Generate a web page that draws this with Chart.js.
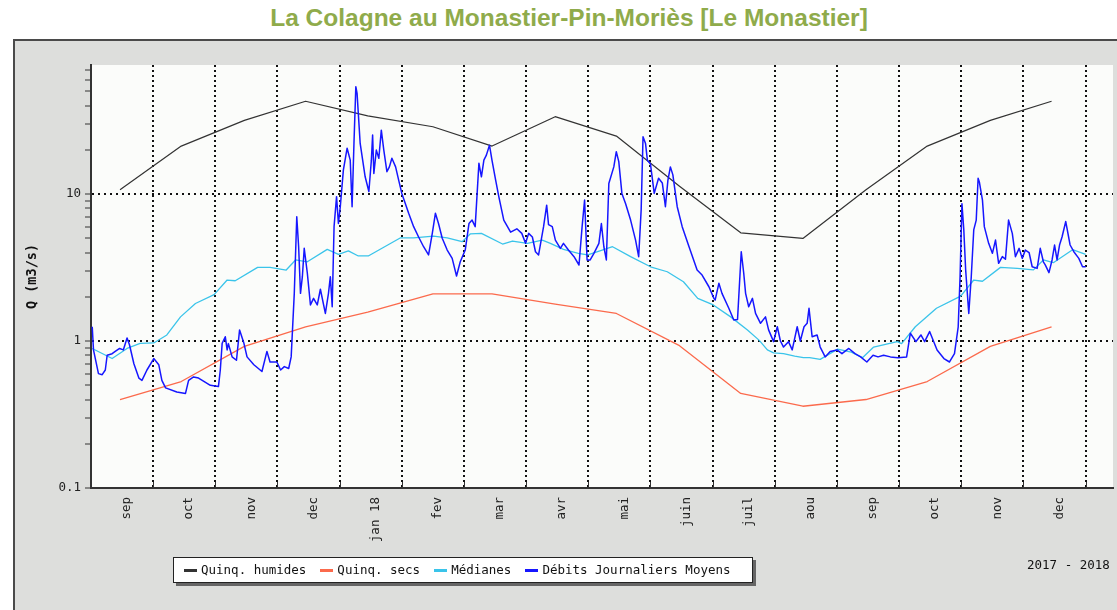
<!DOCTYPE html>
<html>
<head>
<meta charset="utf-8">
<script src="https://cdn.jsdelivr.net/npm/chart.js@4.4.1/dist/chart.umd.min.js"></script>
<style>
  body { margin: 0; width: 1117px; height: 610px; overflow: hidden; position: relative; background: #fff; }
  #titre { position: absolute; left: 0; top: 1px; width: 1138px; text-align: center;
           font: bold 24.5px 'Liberation Sans', Arial, sans-serif; line-height: 34px; color: #8fab4b; }
  #cadre { position: absolute; left: 13px; top: 39px; width: 1110px; height: 580px;
           background: #dddedc; border-left: 2px solid #4a4a4a; border-top: 2px solid #4a4a4a; }
  #graphe { position: absolute; left: 0; top: 0; }
  #legende { position: absolute; left: 173px; top: 557px; width: 568px; height: 24px; box-sizing: content-box;
             padding-left: 10px; background: #fff; border: 1px solid #222; box-shadow: 3px 3px 0 #666;
             font: 12.5px 'DejaVu Sans Mono', monospace; line-height: 24px; white-space: nowrap; color: #111; }
  #legende span { margin-right: 14px; }
  #legende i { display: inline-block; width: 13px; height: 3px; margin-right: 4px; vertical-align: middle; }
  #annees { position: absolute; left: 1027px; top: 556px; font: 12.5px 'DejaVu Sans Mono', monospace;
            line-height: 18px; color: #111; white-space: nowrap; }
</style>
</head>
<body>
<div id="titre">La Colagne au Monastier-Pin-Moriès [Le Monastier]</div>
<div id="cadre"></div>
<canvas id="graphe" width="1117" height="610"></canvas>
<div id="legende"></div>
<div id="annees">2017 - 2018</div>
<script>
// mois affichés (sep 2017 -> dec 2018)
const moisLabels = ['sep', 'oct', 'nov', 'dec', 'jan 18', 'fev', 'mar', 'avr', 'mai', 'juin',
                    'juil', 'aou', 'sep', 'oct', 'nov', 'dec'];

// valeurs mensuelles (au 15 de chaque mois)
const quinqHumides = [10.7, 21.2, 31.7, 42.8, 34, 28.7, 21.2, 33.6, 24.8, 11.3, 5.45, 4.99,
                      10.7, 21.2, 31.7, 42.8];
const quinqSecs = [0.40, 0.53, 0.92, 1.25, 1.57, 2.09, 2.09, 1.78, 1.54, 0.93, 0.44, 0.36,
                   0.40, 0.53, 0.92, 1.25];

// médianes journalières (temps en mois depuis le 1er sep 2017)
const medianesT = [0.02, 0.34, 0.58, 0.79, 1.01, 1.22, 1.44, 1.68, 1.98, 2.19, 2.32, 2.68, 2.88, 3.14,
  3.29, 3.48, 3.80, 3.98, 4.14, 4.30, 4.46, 4.98, 5.19, 5.51, 5.73, 5.97, 6.10, 6.28, 6.62, 6.78, 7.02,
  7.26, 7.39, 7.60, 7.84, 7.99, 8.15, 8.39, 8.68, 9.00, 9.27, 9.53, 9.76, 10.01, 10.29, 10.56, 10.75,
  10.88, 10.98, 11.14, 11.32, 11.46, 11.56, 11.73, 12.01, 12.23, 12.41, 12.59, 12.97, 13.04, 13.26,
  13.60, 13.99, 14.20, 14.34, 14.63, 14.90, 15.16, 15.32, 15.48, 15.79, 16.00];
const medianesQ = [0.89, 0.76, 0.89, 0.965, 0.97, 1.1, 1.46, 1.80, 2.07, 2.6, 2.57, 3.17, 3.17, 3.04,
  3.56, 3.46, 4.2, 3.89, 4.1, 3.79, 3.79, 5.04, 5.04, 5.18, 5.04, 4.74, 5.35, 5.4, 4.57, 4.79, 4.62,
  4.86, 4.62, 4.2, 3.95, 3.85, 4.05, 4.38, 3.75, 3.2, 2.96, 2.53, 1.95, 1.76, 1.46, 1.19, 1.01,
  0.87, 0.83, 0.82, 0.79, 0.77, 0.77, 0.75, 0.88, 0.84, 0.77, 0.91, 0.99, 0.96, 1.25,
  1.67, 2.02, 2.6, 2.55, 3.17, 3.12, 3.05, 3.56, 3.41, 4.18, 3.88];

// débits journaliers moyens
const debitsT = [0.02, 0.04, 0.12, 0.18, 0.23, 0.26, 0.34, 0.39, 0.46, 0.52, 0.58, 0.62, 0.69, 0.77,
  0.82, 0.90, 1.01, 1.09, 1.14, 1.20, 1.38, 1.52, 1.57, 1.65, 1.73, 1.92, 2.05, 2.08, 2.11, 2.16, 2.19,
  2.21, 2.27, 2.34, 2.39, 2.46, 2.51, 2.62, 2.75, 2.83, 2.88, 2.99, 3.05, 3.11, 3.18, 3.22, 3.27, 3.31,
  3.34, 3.37, 3.40, 3.43, 3.48, 3.53, 3.58, 3.64, 3.69, 3.77, 3.82, 3.85, 3.88, 3.91, 3.95, 3.98, 4.01,
  4.06, 4.12, 4.17, 4.20, 4.23, 4.26, 4.28, 4.33, 4.41, 4.47, 4.51, 4.53, 4.55, 4.59, 4.63, 4.67, 4.71,
  4.76, 4.80, 4.84, 4.90, 4.95, 5.00, 5.11, 5.19, 5.27, 5.35, 5.43, 5.49, 5.54, 5.59, 5.65, 5.73, 5.81,
  5.88, 5.94, 6.02, 6.08, 6.13, 6.18, 6.24, 6.28, 6.32, 6.36, 6.41, 6.45, 6.51, 6.56, 6.64, 6.75, 6.85,
  6.93, 6.99, 7.04, 7.10, 7.15, 7.20, 7.28, 7.33, 7.36, 7.42, 7.47, 7.55, 7.60, 7.68, 7.77, 7.85, 7.90,
  7.94, 7.98, 8.03, 8.09, 8.17, 8.21, 8.25, 8.29, 8.33, 8.41, 8.45, 8.49, 8.54, 8.60, 8.68, 8.76, 8.81,
  8.85, 8.88, 8.92, 8.95, 9.00, 9.06, 9.13, 9.19, 9.24, 9.28, 9.32, 9.36, 9.43, 9.51, 9.62, 9.75, 9.83,
  9.94, 10.02, 10.04, 10.10, 10.15, 10.26, 10.34, 10.40, 10.46, 10.50, 10.53, 10.58, 10.64, 10.69,
  10.77, 10.85, 10.90, 10.98, 11.04, 11.09, 11.14, 11.22, 11.28, 11.36, 11.41, 11.47, 11.52, 11.55,
  11.60, 11.68, 11.73, 11.81, 11.89, 12.00, 12.08, 12.19, 12.29, 12.38, 12.48, 12.58, 12.66, 12.75,
  12.86, 12.98, 13.12, 13.18, 13.27, 13.35, 13.41, 13.49, 13.61, 13.72, 13.81, 13.89, 13.95, 13.98,
  14.01, 14.04, 14.07, 14.12, 14.16, 14.20, 14.24, 14.27, 14.29, 14.34, 14.37, 14.44, 14.50, 14.55,
  14.60, 14.66, 14.71, 14.76, 14.82, 14.87, 14.93, 14.98, 15.03, 15.09, 15.14, 15.22, 15.27, 15.32,
  15.35, 15.41, 15.46, 15.50, 15.54, 15.58, 15.62, 15.68, 15.75, 15.81, 15.89, 15.95, 16.00];
const debitsQ = [1.25, 0.87, 0.60, 0.59, 0.635, 0.80, 0.82, 0.85, 0.89, 0.87, 1.05, 0.94, 0.70, 0.56,
  0.54, 0.635, 0.76, 0.69, 0.54, 0.48, 0.45, 0.44, 0.54, 0.57, 0.56, 0.50, 0.49, 0.635, 0.965, 1.07, 0.87,
  0.96, 0.78, 0.74, 1.19, 0.965, 0.78, 0.69, 0.62, 0.85, 0.72, 0.72, 0.635, 0.67, 0.65, 0.78, 2.11, 7.0,
  4.38, 2.11, 2.74, 4.27, 2.89, 1.76, 1.95, 1.76, 2.25, 1.54, 2.11, 2.74, 1.71, 6.0, 9.6, 6.3, 8.2,
  14.6, 20.5, 17.0, 8.2, 22.1, 53.7, 48.4, 22.1, 13.1, 10.4, 17.0, 25.2, 13.8, 19.9, 17.5, 27.2, 19.9,
  14.2, 15.3, 17.5, 15.3, 12.4, 10.1, 7.4, 6.0, 5.1, 4.38, 3.85, 5.4, 7.4, 6.3, 5.0, 4.16, 3.65,
  2.77, 3.46, 4.16, 6.3, 6.65, 6.0, 16.2, 13.1, 17.0, 18.4, 21.5, 17.0, 12.4, 9.6, 6.65, 5.5, 5.8,
  5.4, 4.62, 5.4, 5.1, 4.05, 3.85, 6.0, 8.4, 6.2, 6.0, 4.86, 4.27, 4.62, 4.16, 3.75, 3.29, 6.0,
  9.1, 3.56, 3.56, 3.95, 4.62, 6.3, 4.38, 3.56, 11.8, 15.3, 19.4, 16.6, 10.1, 8.6, 6.65, 4.86, 3.75,
  7.8, 24.5, 22.1, 17.0, 16.0, 10.1, 12.8, 11.9, 8.2, 12.4, 15.3, 13.5, 8.2, 6.0, 4.38, 3.04, 2.81,
  2.34, 1.95, 1.9, 2.47, 2.11, 1.67, 1.39, 1.4, 4.05, 2.89, 2.11, 1.71, 1.95, 1.54,
  1.32, 1.46, 1.19, 0.99, 1.25, 1.0, 0.91, 0.99, 0.87, 1.25, 1.0, 1.25, 1.32, 1.67,
  1.07, 1.1, 0.91, 0.78, 0.85, 0.87, 0.82, 0.89, 0.82, 0.78, 0.72, 0.8, 0.78, 0.8,
  0.78, 0.77, 0.78, 1.13, 0.99, 1.1, 0.99, 1.16, 0.87, 0.76, 0.72, 0.82, 1.25, 2.74,
  8.6, 5.7, 3.04, 1.54, 2.74, 5.7, 6.65, 12.8, 12.1, 9.1, 6.0, 4.62, 3.95, 4.86,
  3.38, 3.75, 3.6, 6.65, 5.4, 3.75, 4.27, 3.65, 4.16, 4.0, 3.2, 3.12, 4.27, 3.46,
  3.3, 2.92, 3.56, 4.5, 3.56, 4.5, 5.1, 6.5, 4.5, 4.05, 3.65, 3.2, 3.2];

const yGraduations = [0.1, 0.2, 0.3, 0.4, 0.5, 0.6, 0.7, 0.8, 0.9, 1, 2, 3, 4, 5, 6, 7, 8, 9,
                      10, 20, 30, 40, 50, 60, 70];
const yEtiquettes = ['0.1', '1', '10'];

const nomsSeries = ['Quinq. humides', 'Quinq. secs', 'Médianes', 'Débits Journaliers Moyens'];
const couleurs = ['#333333', '#fb6a4c', '#3ac4ea', '#1616ff'];

// position du 15 du mois i (en mois depuis le 1er sep 2017)
function milieuMois(i) {
    const an = 2017 + Math.floor((8 + i) / 12);
    const m = (8 + i) % 12;
    const jours = new Date(an, m + 1, 0).getDate();
    return i + 14 / jours;
}

function paires(t, q) {
    const n = Math.min(t.length, q.length);
    const out = [];
    for (let i = 0; i < n; i++) out.push({ x: t[i], y: q[i] });
    return out;
}

// legende HTML
const legende = document.getElementById('legende');
legende.innerHTML = nomsSeries
    .map((nom, i) => `<span><i style="background:${couleurs[i]}"></i>${nom}</span>`)
    .join('');

const police = { family: "'DejaVu Sans Mono', monospace", size: 12.5 };

const fondPlot = {
    id: 'fondPlot',
    beforeDraw(chart) {
        const { ctx, chartArea: a } = chart;
        ctx.save();
        ctx.fillStyle = '#fbfcfa';
        ctx.fillRect(a.left, a.top, a.right - a.left, a.bottom - a.top);
        ctx.restore();
    }
};

// petites graduations vers l'intérieur au début de chaque mois
const gradMois = {
    id: 'gradMois',
    afterDraw(chart) {
        const { ctx, chartArea: a, scales } = chart;
        ctx.save();
        ctx.strokeStyle = '#333';
        ctx.lineWidth = 1;
        ctx.beginPath();
        for (let i = 1; i <= moisLabels.length; i++) {
            const x = Math.round(scales.x.getPixelForValue(i)) + 0.5;
            ctx.moveTo(x, a.bottom);
            ctx.lineTo(x, a.bottom - 6);
        }
        ctx.stroke();
        ctx.restore();
    }
};

const ctx = document.getElementById('graphe').getContext('2d');
new Chart(ctx, {
    type: 'line',
    data: {
        datasets: [
            {
                label: nomsSeries[3],
                data: paires(debitsT, debitsQ),
                borderColor: couleurs[3],
                borderWidth: 1.5,
            },
            {
                label: nomsSeries[2],
                data: paires(medianesT, medianesQ),
                borderColor: couleurs[2],
                borderWidth: 1.3,
            },
            {
                label: nomsSeries[1],
                data: quinqSecs.map((q, i) => ({ x: milieuMois(i), y: q })),
                borderColor: couleurs[1],
                borderWidth: 1.3,
            },
            {
                label: nomsSeries[0],
                data: quinqHumides.map((q, i) => ({ x: milieuMois(i), y: q })),
                borderColor: couleurs[0],
                borderWidth: 1.2,
            },
        ],
    },
    options: {
        responsive: false,
        animation: false,
        devicePixelRatio: 1,
        layout: { padding: { top: 65, right: 4, left: 0, bottom: 0 } },
        elements: {
            point: { radius: 0 },
            line: { tension: 0, borderJoinStyle: 'round', fill: false },
        },
        plugins: {
            legend: { display: false },
            tooltip: { enabled: false },
        },
        scales: {
            x: {
                type: 'linear',
                min: 0,
                max: 16.44,
                afterBuildTicks: (s) => {
                    const t = [];
                    for (let i = 0; i < moisLabels.length; i++) {
                        t.push({ value: i + 0.58, mois: moisLabels[i] });
                        t.push({ value: i + 1, mois: '' });
                    }
                    s.ticks = t;
                },
                afterFit: (s) => { s.height = 122; },
                grid: {
                    color: (c) => (c.tick && Number.isInteger(c.tick.value) ? '#111' : 'rgba(0,0,0,0)'),
                    lineWidth: 2,
                    drawTicks: false,
                },
                border: { display: true, color: '#333', width: 2, dash: [2, 3] },
                ticks: {
                    autoSkip: false,
                    minRotation: 90,
                    maxRotation: 90,
                    padding: 9,
                    color: '#222',
                    font: police,
                    callback: (v, i, ticks) => ticks[i].mois,
                },
            },
            y: {
                type: 'logarithmic',
                min: 0.1,
                max: 75.5,
                afterBuildTicks: (s) => {
                    s.ticks = yGraduations.map((v) => ({ value: v }));
                },
                afterFit: (s) => { s.width = 91; },
                grid: {
                    color: (c) => (c.tick && (c.tick.value === 1 || c.tick.value === 10) ? '#111' : 'rgba(0,0,0,0)'),
                    lineWidth: 2,
                    tickColor: '#333',
                    tickWidth: 1,
                    tickLength: 6,
                },
                border: { display: true, color: '#333', width: 2, dash: [2, 4] },
                ticks: {
                    autoSkip: false,
                    padding: 4,
                    color: '#222',
                    font: police,
                    callback: (v) => yEtiquettes.find((e) => Number(e) === v) || '',
                },
                title: {
                    display: true,
                    text: 'Q (m3/s)',
                    color: '#111',
                    font: { family: "'DejaVu Sans Mono', monospace", size: 13.5, weight: 'bold' },
                    padding: { top: 24, bottom: 0 },
                },
            },
        },
    },
    plugins: [fondPlot, gradMois],
});
</script>
</body>
</html>
